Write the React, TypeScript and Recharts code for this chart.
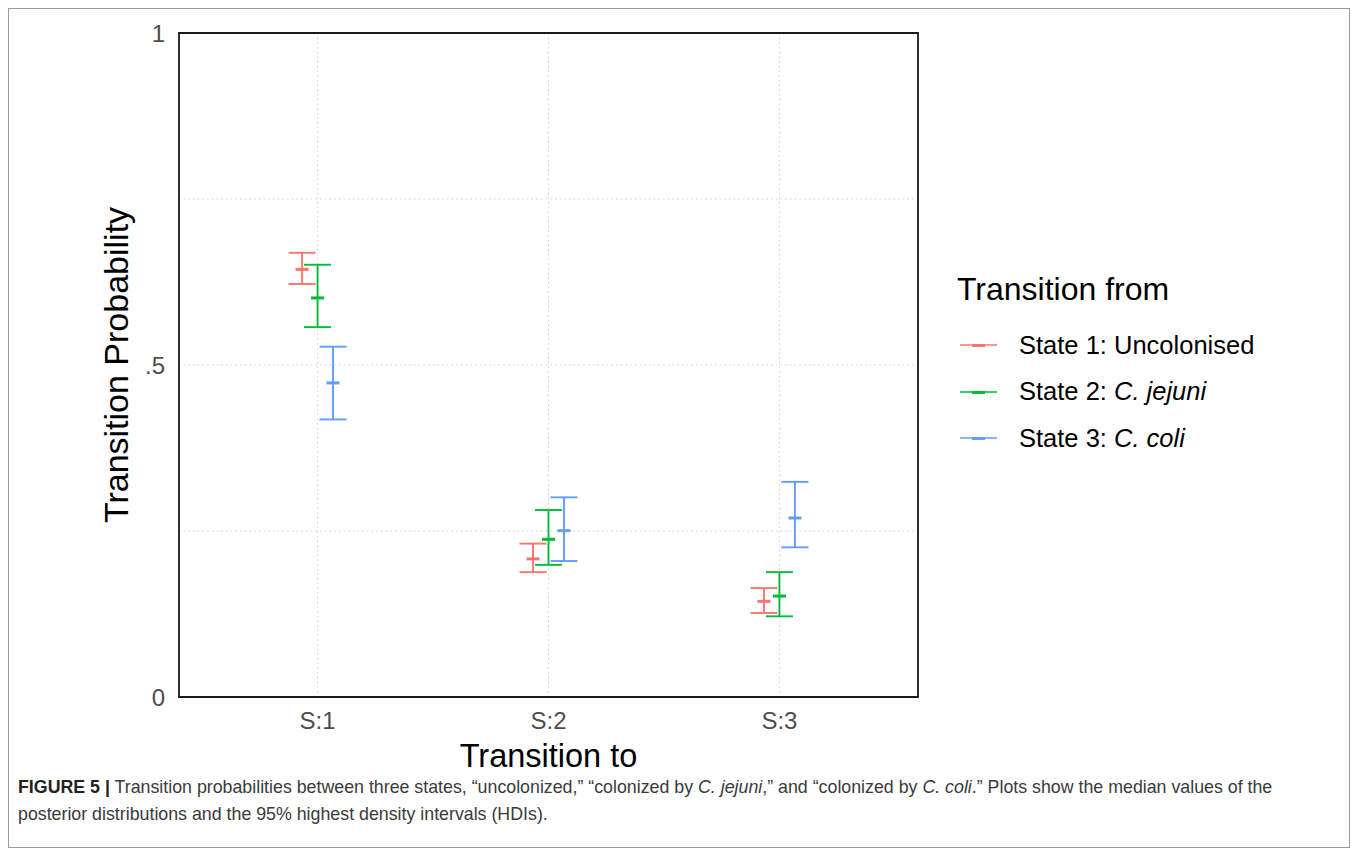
import React from "react";
import {
  ComposedChart,
  Scatter,
  ErrorBar,
  XAxis,
  YAxis,
  CartesianGrid,
  ReferenceArea,
  Legend,
  Label,
} from "recharts";

// ---- data ----
const categories = ["S:1", "S:2", "S:3"];
const seriesNames = ["State 1: Uncolonised", "State 2: C. jejuni", "State 3: C. coli"];
const seriesColors = ["#F8766D", "#00BA38", "#619CFF"];

const state1Median = [0.644, 0.208, 0.144];
const state1Lower = [0.622, 0.188, 0.1265];
const state1Upper = [0.669, 0.231, 0.164];

const state2Median = [0.601, 0.2375, 0.152];
const state2Lower = [0.557, 0.199, 0.1215];
const state2Upper = [0.651, 0.2816, 0.188];

const state3Median = [0.473, 0.2505, 0.2696];
const state3Lower = [0.418, 0.2048, 0.2254];
const state3Upper = [0.5276, 0.3007, 0.324];

const yTicks = [0, 0.25, 0.5, 0.75, 1];
const yTickLabels = ["0", "", ".5", "", "1"];

// dodge width (in category units) between the three series
const DODGE = 0.067;

function buildSeries(med: number[], lo: number[], hi: number[], s: number) {
  return categories.map((c, i) => ({
    cat: c,
    x: i + 1 + (s - 1) * DODGE,
    med: med[i],
    err: [med[i] - lo[i], hi[i] - med[i]],
  }));
}

const seriesData = [
  buildSeries(state1Median, state1Lower, state1Upper, 0),
  buildSeries(state2Median, state2Lower, state2Upper, 1),
  buildSeries(state3Median, state3Lower, state3Upper, 2),
];

const FONT = "'Liberation Sans', Arial, Helvetica, sans-serif";

const medianShape = (color: string) => (props: any) => {
  const { cx, cy } = props;
  if (cx == null || cy == null) return <g />;
  return <rect x={cx - 6.5} y={cy - 1.5} width={13} height={3} fill={color} />;
};

const LegendContent = () => (
  <div style={{ fontFamily: FONT, position: "relative", width: 380, height: 200, textAlign: "left" }}>
    <div style={{ fontSize: 32, lineHeight: "40px", color: "#000", whiteSpace: "nowrap" }}>
      Transition from
    </div>
    <div style={{ marginTop: 13 }}>
      {seriesNames.map((name, i) => {
        const parts = name.split(": ");
        return (
          <div
            key={name}
            style={{ display: "flex", alignItems: "center", height: 46.5, whiteSpace: "nowrap" }}
          >
            <svg width={40} height={12} style={{ marginLeft: 3 }}>
              <line x1={0} y1={6} x2={37} y2={6} stroke={seriesColors[i]} strokeWidth={1.6} />
              <rect x={12} y={5} width={13} height={3} fill={seriesColors[i]} />
            </svg>
            <span style={{ marginLeft: 19, fontSize: 25.5, color: "#000" }}>
              {parts[0]}:{" "}
              {i === 0 ? parts[1] : <i>{parts[1]}</i>}
            </span>
          </div>
        );
      })}
    </div>
  </div>
);

export default function App() {
  return (
    <div
      style={{
        position: "relative",
        width: 1342,
        height: 840,
        border: "1px solid #9a9a9a",
        boxSizing: "border-box",
        background: "#fff",
      }}
    >
      <ComposedChart
        width={1340}
        height={770}
        margin={{ top: 24, right: 431, left: 60, bottom: 10 }}
      >
        <CartesianGrid stroke="#cfcfcf" strokeDasharray="1.5 3.2" strokeWidth={1} />
        <XAxis
          type="number"
          dataKey="x"
          domain={[0.4, 3.6]}
          ticks={[1, 2, 3]}
          tickFormatter={(v: number) => categories[Math.round(v) - 1]}
          axisLine={false}
          tickLine={false}
          tickSize={0}
          tickMargin={15}
          height={72}
          allowDataOverflow
          tick={{ fontSize: 24, fill: "#4d4d4d", fontFamily: FONT }}
        >
          <Label
            content={({ viewBox }: any) => (
              <text
                x={viewBox.x + viewBox.width / 2}
                y={viewBox.y + 70}
                textAnchor="middle"
                fontSize={32.5}
                fontFamily={FONT}
                fill="#000"
              >
                Transition to
              </text>
            )}
          />
        </XAxis>
        <YAxis
          type="number"
          domain={[0, 1]}
          ticks={yTicks}
          tickFormatter={(v: number) => yTickLabels[yTicks.indexOf(v)]}
          axisLine={false}
          tickLine={false}
          tickSize={0}
          tickMargin={14}
          width={110}
          allowDataOverflow
          tick={{ fontSize: 24, fill: "#4d4d4d", fontFamily: FONT }}
        >
          <Label
            content={({ viewBox }: any) => {
              const cx = viewBox.x + 59;
              const cy = viewBox.y + viewBox.height / 2;
              return (
                <text
                  x={cx}
                  y={cy}
                  transform={`rotate(-90, ${cx}, ${cy})`}
                  textAnchor="middle"
                  fontSize={34}
                  fontFamily={FONT}
                  fill="#000"
                >
                  Transition Probability
                </text>
              );
            }}
          />
        </YAxis>
        <ReferenceArea
          x1={0.4}
          x2={3.6}
          y1={0}
          y2={1}
          fill="none"
          fillOpacity={0}
          stroke="#1a1a1a"
          strokeWidth={1.8}
          ifOverflow="visible"
        />
        {seriesData.map((data, s) => (
          <Scatter
            key={seriesNames[s]}
            name={seriesNames[s]}
            data={data}
            dataKey="med"
            fill={seriesColors[s]}
            isAnimationActive={false}
            shape={medianShape(seriesColors[s])}
          >
            <ErrorBar
              dataKey="err"
              direction="y"
              width={13.5}
              stroke={seriesColors[s]}
              strokeWidth={1.9}
              isAnimationActive={false}
            />
          </Scatter>
        ))}
        <Legend
          layout="horizontal"
          align="center"
          verticalAlign="middle"
          content={<LegendContent />}
          wrapperStyle={{ left: 948, top: 260, width: 380, height: 200 }}
        />
      </ComposedChart>
      <div
        style={{
          position: "absolute",
          left: 9,
          top: 765,
          fontFamily: FONT,
          fontSize: 17.8,
          lineHeight: "27px",
          color: "#3a3a3a",
          whiteSpace: "nowrap",
        }}
      >
        <b style={{ color: "#222" }}>FIGURE 5 |</b> Transition probabilities between three states,
        “uncolonized,” “colonized by <i>C. jejuni</i>,” and “colonized by <i>C. coli</i>.” Plots show
        the median values of the
        <br />
        posterior distributions and the 95% highest density intervals (HDIs).
      </div>
    </div>
  );
}
